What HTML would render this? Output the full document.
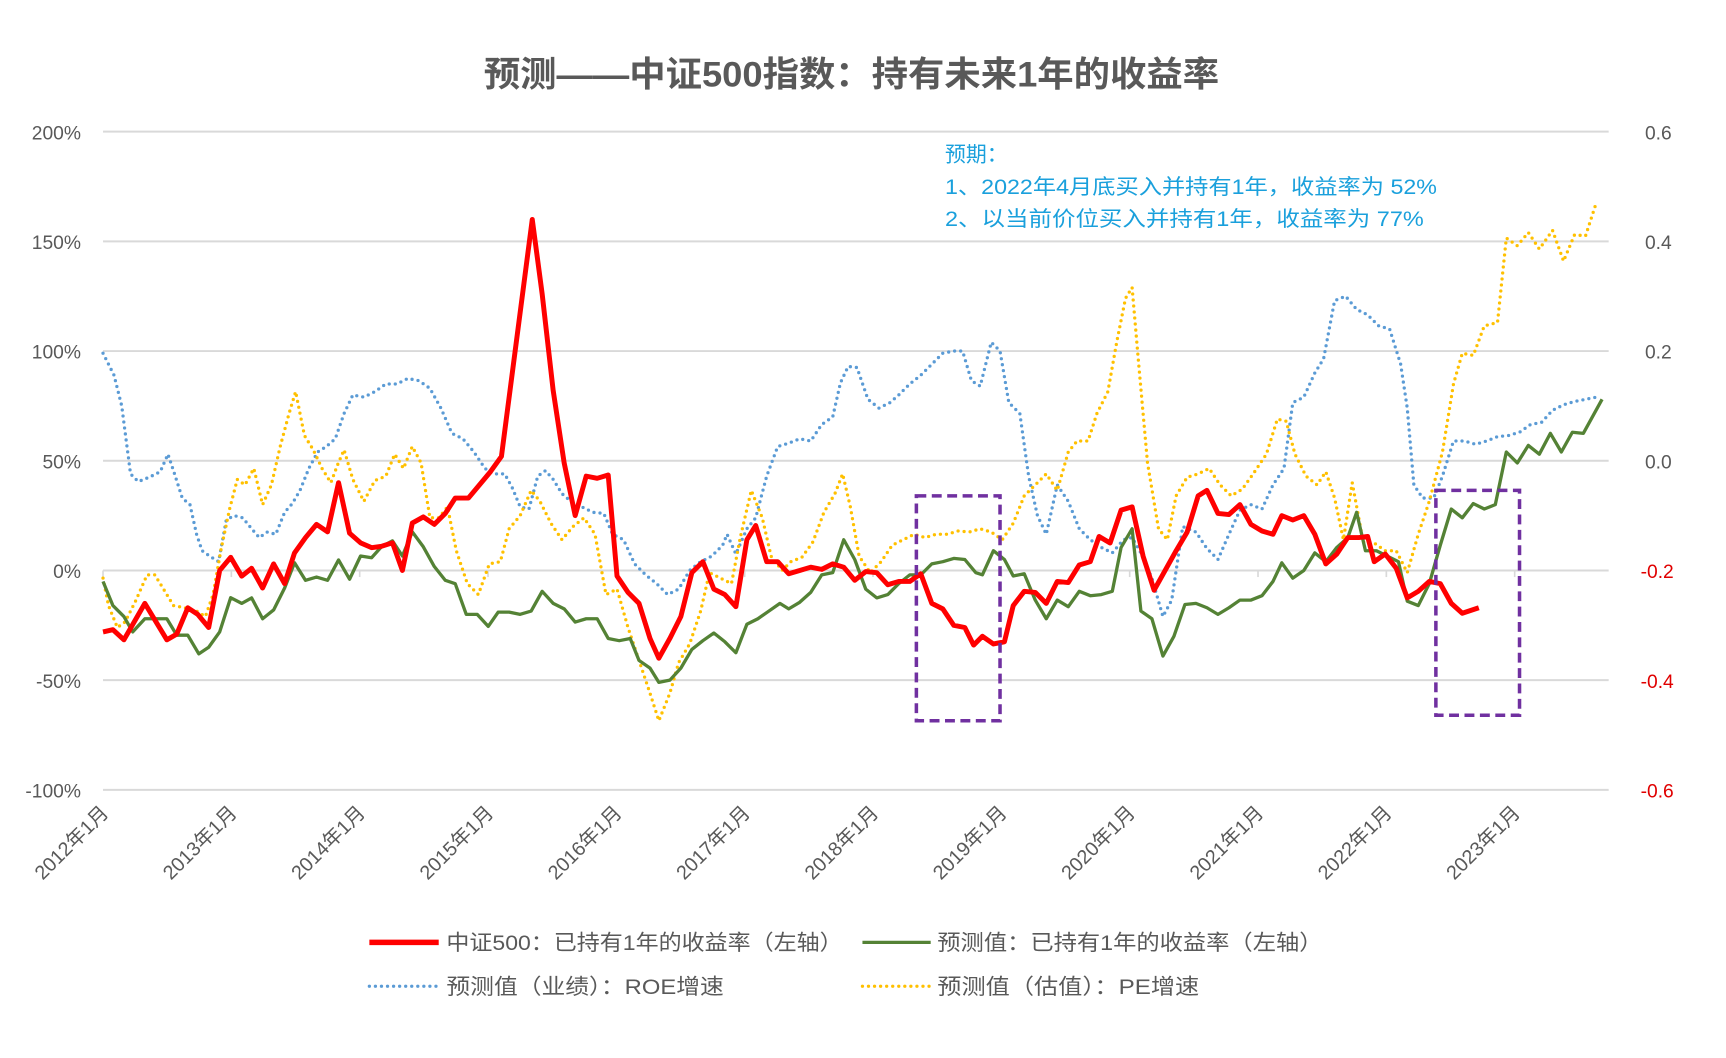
<!DOCTYPE html>
<html><head><meta charset="utf-8"><style>
html,body{margin:0;padding:0;background:#fff;}
svg{display:block;}
text{font-family:"Liberation Sans","Noto Sans CJK SC",sans-serif;}
</style></head><body>
<svg id="c" width="1726" height="1058" viewBox="-0.6 -2 1568.2 964.4" preserveAspectRatio="none" xmlns="http://www.w3.org/2000/svg">
<rect x="-1" y="-3" width="1570" height="970" fill="#fff"/>
<text x="773" y="77" text-anchor="middle" font-size="32" font-weight="bold" fill="#595959" textLength="668" lengthAdjust="spacingAndGlyphs">预测——中证500指数：持有未来1年的收益率</text>
<g stroke="#d9d9d9" stroke-width="1.8">
<line x1="93" y1="118" x2="1461" y2="118"/><line x1="93" y1="218" x2="1461" y2="218"/>
<line x1="93" y1="318" x2="1461" y2="318"/><line x1="93" y1="418" x2="1461" y2="418"/>
<line x1="93" y1="518" x2="1461" y2="518"/><line x1="93" y1="618" x2="1461" y2="618"/>
<line x1="93" y1="718" x2="1461" y2="718"/>
</g>
<g font-size="17.5" fill="#595959" text-anchor="end">
<text x="73" y="125">200%</text><text x="73" y="225">150%</text><text x="73" y="325">100%</text>
<text x="73" y="425">50%</text><text x="73" y="525">0%</text><text x="73" y="625">-50%</text><text x="73" y="725">-100%</text>
</g>
<g font-size="17.5" fill="#595959">
<text x="1494" y="125">0.6</text><text x="1494" y="225">0.4</text><text x="1494" y="325">0.2</text><text x="1494" y="425">0.0</text>
<text x="1490" y="525" fill="#e00000">-0.2</text><text x="1490" y="625" fill="#e00000">-0.4</text><text x="1490" y="725" fill="#e00000">-0.6</text>
</g>
<g id="xl" font-size="18" fill="#595959"></g>
<g fill="#1aa0dc" font-size="19">
<text x="858" y="145">预期：</text>
<text x="858" y="175" textLength="447" lengthAdjust="spacingAndGlyphs">1、2022年4月底买入并持有1年，收益率为 52%</text>
<text x="858" y="204" textLength="435" lengthAdjust="spacingAndGlyphs">2、以当前价位买入并持有1年，收益率为 77%</text>
</g>
<g id="series" fill="none" stroke-linejoin="round"></g>
<g fill="none" stroke="#7030a0" stroke-width="3.2" stroke-dasharray="9 5">
<rect x="832" y="450" width="76" height="205"/>
<rect x="1304" y="445" width="76" height="205"/>
</g>
<g font-size="19.5" fill="#595959">
<line x1="335" y1="857" x2="398" y2="857" stroke="#ff0000" stroke-width="5"/>
<text x="405" y="864" textLength="360" lengthAdjust="spacingAndGlyphs">中证500：已持有1年的收益率（左轴）</text>
<line x1="783" y1="857" x2="845" y2="857" stroke="#548235" stroke-width="3"/>
<text x="851" y="864" textLength="350" lengthAdjust="spacingAndGlyphs">预测值：已持有1年的收益率（左轴）</text>
<line x1="335" y1="897" x2="398" y2="897" stroke="#5b9bd5" stroke-width="3" stroke-dasharray="0 5.5" stroke-linecap="round"/>
<text x="405" y="904" textLength="252" lengthAdjust="spacingAndGlyphs">预测值（业绩）：ROE增速</text>
<line x1="783" y1="897" x2="845" y2="897" stroke="#ffc000" stroke-width="3" stroke-dasharray="0 5.5" stroke-linecap="round"/>
<text x="851" y="904" textLength="238" lengthAdjust="spacingAndGlyphs">预测值（估值）：PE增速</text>
</g>
</svg>
<script>
var NS="http://www.w3.org/2000/svg";
function pct(a){var o=[];for(var i=0;i<a.length;i+=2)o.push(a[i]+","+(518-2*a[i+1]));return o.join(" ");}
function raw(a){var o=[];for(var i=0;i<a.length;i+=2)o.push(a[i]+","+a[i+1]);return o.join(" ");}
var blue=[93,320,103,340,110,368,118,430,125,437,135,433,145,428,152,412,158,430,165,452,172,458,178,485,183,500,190,505,198,510,205,472,212,468,220,470,228,480,235,488,242,483,250,485,258,465,265,457,272,445,280,425,288,410,296,405,304,398,312,375,320,358,330,360,340,355,350,348,360,348,370,343,380,345,390,352,400,370,410,393,420,398,430,410,440,425,448,430,458,430,465,443,472,460,480,462,488,432,495,427,502,435,510,448,518,455,528,460,538,465,548,466,556,485,566,490,576,512,586,522,596,530,606,540,616,535,626,518,636,510,646,505,656,495,660,485,668,503,678,480,686,470,696,432,706,405,716,402,726,398,736,400,746,385,756,378,763,347,770,332,778,333,788,362,798,370,808,365,816,358,826,348,836,340,846,330,856,320,866,318,874,318,882,345,890,350,900,310,908,318,916,365,926,375,934,432,942,468,950,485,960,440,970,455,980,480,990,490,1000,497,1010,502,1020,490,1028,488,1036,502,1046,525,1056,560,1064,545,1074,478,1086,483,1096,498,1106,508,1116,485,1126,463,1136,458,1146,462,1156,440,1166,425,1174,365,1184,360,1194,338,1202,325,1212,272,1222,268,1232,280,1242,285,1252,295,1262,298,1272,330,1278,370,1284,440,1292,452,1302,452,1310,432,1320,400,1330,400,1340,403,1350,400,1360,396,1370,395,1380,392,1390,385,1400,383,1410,372,1420,367,1430,364,1440,362,1450,360];
var yel=[93,525,98,550,106,570,113,565,123,545,133,522,140,522,148,535,157,550,167,552,178,555,186,560,193,540,200,500,208,462,215,435,222,440,230,425,238,458,246,440,254,405,262,375,268,355,276,395,284,408,292,425,300,438,306,422,312,408,320,435,330,455,340,436,350,432,358,412,366,425,374,405,382,420,390,470,398,470,406,460,414,500,424,530,434,540,444,512,454,510,462,480,472,468,482,445,490,455,500,475,510,490,520,478,530,470,540,485,550,540,560,535,570,570,580,600,590,630,598,655,608,630,616,602,626,585,636,555,644,520,654,525,664,530,672,488,682,445,692,470,700,505,710,518,718,510,728,506,738,492,748,465,758,448,765,430,772,460,780,505,790,520,800,510,810,495,820,490,830,485,840,488,850,485,860,485,870,482,880,483,890,480,900,483,910,490,920,475,930,450,940,440,950,430,960,445,970,410,978,400,988,400,996,375,1006,355,1014,310,1022,270,1028,260,1034,330,1042,420,1052,480,1060,490,1068,450,1078,433,1088,430,1098,425,1108,440,1118,450,1128,444,1138,430,1150,412,1160,380,1168,382,1176,412,1186,432,1196,440,1204,428,1212,452,1220,490,1228,438,1238,492,1248,493,1258,500,1268,500,1278,520,1288,485,1298,455,1310,410,1320,348,1328,320,1338,322,1348,295,1360,292,1368,215,1378,222,1388,210,1398,225,1410,208,1420,236,1430,212,1440,213,1450,182];
var green=[93,-5,102,-16,112,-21,120,-28,131,-22,151,-22,160,-29.5,170,-29.5,180,-38,189,-35,199,-28,209,-12.4,219,-15,228,-12.5,238,-22,248,-18,258,-8,267,3.5,277,-4.5,287,-3,297,-4.5,307,4.8,317,-4,327,6.6,337,5.8,346,10.8,356,13.5,365,6.6,374,17.6,384,10.8,394,1.8,404,-4.5,413,-6,423,-20,433,-20,443,-25.5,452,-19,462,-19,472,-20,482,-18.5,492,-9.5,502,-15,512,-17.5,522,-23.5,532,-22,542,-22,552,-31,562,-32,572,-31,580,-41,590,-44.5,598,-51,608,-50,618,-44.5,628,-36,638,-32,648,-28.5,658,-32.5,668,-37.5,678,-24.5,688,-22,698,-18.5,708,-15,716,-17.5,726,-14.5,736,-10,746,-2,756,-1,766,14,776,5,786,-8.5,796,-12.5,806,-11,816,-6,826,-2,836,-2,846,3,856,4,866,5.5,876,5,886,-1,892,-2,902,9,912,5,920,-2.5,930,-1.5,940,-13.5,950,-22,960,-13.5,970,-16.5,980,-9.5,990,-11.5,1000,-11,1010,-9.5,1018,10.5,1028,19,1036,-18.5,1046,-22,1056,-39,1066,-30,1076,-15.5,1086,-15,1096,-17,1106,-20,1116,-17,1126,-13.5,1136,-13.5,1146,-11.5,1156,-5,1164,3.5,1174,-3.5,1184,0,1194,8,1204,4,1214,10.5,1224,15,1232,26.5,1240,9,1250,9,1260,6.5,1270,4,1278,-14,1288,-16,1298,-6,1308,11.5,1318,28,1328,24,1338,30.5,1348,28,1358,30,1368,54,1378,49,1388,57,1398,53,1408,62.5,1418,54,1428,63,1438,62.5,1455,78];
var red=[93,-28,102,-27,112,-31.6,131,-15,151,-31.6,160,-29,170,-17,179,-20,189,-26,199,0,209,6,219,-2.6,228,1,238,-8,248,3,258,-6,267,8,277,15,287,21,297,17.6,307,40,317,17,327,12.6,337,10.4,346,11,356,12.6,365,0,374,21.6,384,24.4,394,21,404,26,413,33,425,33,445,45,455,52,483,160,492,126,502,82,512,49,522,25,532,43,542,42,552,43.5,560,-2.5,570,-10,580,-15,590,-31,598,-40,608,-31,618,-21,628,-1,638,4,648,-8.5,658,-11,668,-16.5,678,14,686,20.5,696,4,706,4,716,-1.5,726,0,736,1.5,746,0.5,756,3,766,1.5,776,-4.5,786,-0.5,796,-1,806,-6.5,816,-5,826,-5,836,-1.5,846,-15,856,-17.5,866,-25,876,-26,884,-34,892,-30,902,-33.5,912,-32.5,920,-16,930,-9.5,940,-10,950,-15,960,-5,970,-5.5,980,2.5,990,4,998,15.5,1008,12.5,1018,27.5,1028,29,1038,6.5,1048,-9,1058,0,1068,9,1078,17.5,1088,34,1096,36.5,1106,26,1116,25.5,1126,30,1136,21,1146,18,1156,16.5,1164,25,1174,23,1184,25,1194,16.5,1204,3,1214,7.5,1224,15,1234,15,1242,15.5,1248,4,1258,7.5,1268,1,1278,-12.5,1288,-9.5,1298,-5,1308,-6,1318,-15,1328,-19.5,1343,-17];
var g=document.getElementById("series");
function pl(pts,col,w,dot){var p=document.createElementNS(NS,"polyline");p.setAttribute("points",pts);p.setAttribute("stroke",col);p.setAttribute("stroke-width",w);if(dot){p.setAttribute("stroke-dasharray","0 5.5");p.setAttribute("stroke-linecap","round");}g.appendChild(p);}
pl(raw(blue),"#5b9bd5",3,true);
pl(raw(yel),"#ffc000",3,true);
pl(pct(green),"#548235",3);
pl(pct(red),"#ff0000",4.5);
var xl=document.getElementById("xl");
for(var y=0;y<12;y++){var x=93+y*116.6;var t=document.createElementNS(NS,"text");t.setAttribute("x",0);t.setAttribute("y",0);t.setAttribute("text-anchor","end");t.setAttribute("transform","translate("+(x+6)+",740) rotate(-45)");t.textContent=(2012+y)+"年1月";xl.appendChild(t);
var tk=document.createElementNS(NS,"line");tk.setAttribute("x1",x);tk.setAttribute("x2",x);tk.setAttribute("y1",518);tk.setAttribute("y2",524);tk.setAttribute("stroke","#d9d9d9");tk.setAttribute("stroke-width",1.5);xl.appendChild(tk);}
</script>
</body></html>
